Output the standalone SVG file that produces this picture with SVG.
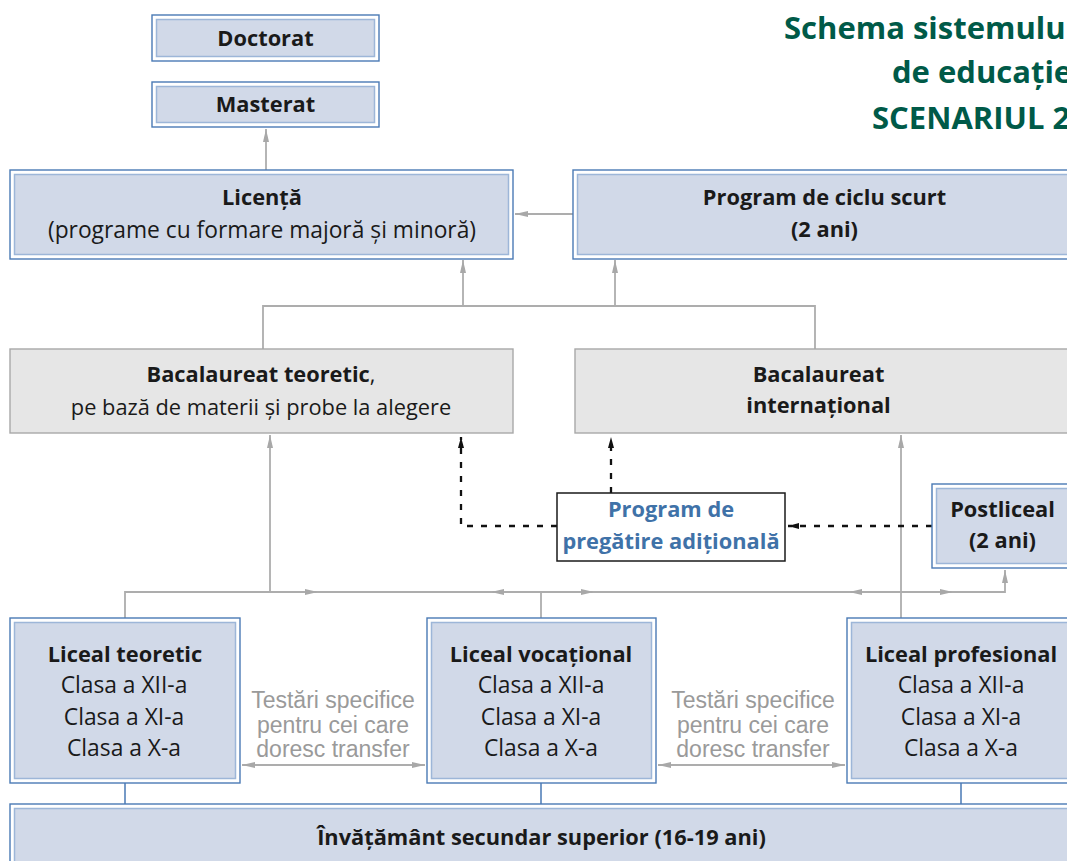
<svg xmlns="http://www.w3.org/2000/svg" width="1067" height="861" viewBox="0 0 1067 861">
<defs>
<style>
.outer{fill:#fff;stroke:#4a7ab5;stroke-width:1.4}
.inner{fill:#d1d9e8;stroke:#9db6d8;stroke-width:1.5}
.gray{fill:#e6e6e6;stroke:#a8a8a8;stroke-width:1.4}
.white{fill:#fff;stroke:#1a1a1a;stroke-width:1.5}
.t{font-family:"Open Sans","Noto Sans",sans-serif;font-size:21.8px;fill:#1a1a1a;text-anchor:middle}
.r{font-size:22.8px}
.b{font-weight:bold}
.blue{fill:#3f72a8}
.note{font-family:"Liberation Sans",Arial,sans-serif;font-size:23px;fill:#9a9a9a;text-anchor:middle}
.title{font-family:"Open Sans","Noto Sans",sans-serif;font-weight:bold;font-size:31px;fill:#005a48}
.gl{stroke:#adadad;stroke-width:1.8;fill:none}
.dl{stroke:#111;stroke-width:2.3;stroke-dasharray:6 8;fill:none}
.bl{stroke:#4a7ab5;stroke-width:1.5;fill:none}
</style>
<marker id="ag" viewBox="0 0 13 8" refX="13" refY="4" markerWidth="13" markerHeight="8" markerUnits="userSpaceOnUse" orient="auto-start-reverse"><path d="M0,1 L13,4 L0,7 z" fill="#a8a8a8"/></marker>
<marker id="ab" viewBox="0 0 11 8" refX="11" refY="4" markerWidth="11" markerHeight="8" markerUnits="userSpaceOnUse" orient="auto"><path d="M0,1 L11,4 L0,7 z" fill="#111"/></marker>
</defs>
<rect width="1067" height="861" fill="#fff"/>

<g id="title">
<text class="title" x="784" y="39">Schema sistemului</text>
<text class="title" x="892" y="83">de educație</text>
<text class="title" x="872" y="129">SCENARIUL 2</text>
</g>

<g id="connectors">
<path class="gl" d="M266,170 V129" marker-end="url(#ag)"/>
<path class="gl" d="M573,214 H515" marker-end="url(#ag)"/>
<path class="gl" d="M263,349 V306 H815 V349"/>
<path class="gl" d="M463,306 V260" marker-end="url(#ag)"/>
<path class="gl" d="M615,306 V260" marker-end="url(#ag)"/>
<path class="gl" d="M270,592 V435" marker-end="url(#ag)"/>
<path class="gl" d="M125,618 V592 H1005 V570" marker-end="url(#ag)"/>
<path class="gl" d="M541,618 V592"/>
<path class="gl" d="M901,618 V435" marker-end="url(#ag)"/>
<path class="gl" d="M300,592 H318" marker-end="url(#ag)"/>
<path class="gl" d="M509,592 H491" marker-end="url(#ag)"/>
<path class="gl" d="M576,592 H594" marker-end="url(#ag)"/>
<path class="gl" d="M867,592 H849" marker-end="url(#ag)"/>
<path class="gl" d="M935,592 H953" marker-end="url(#ag)"/>
<path class="gl" d="M242,765 H425" marker-start="url(#ag)" marker-end="url(#ag)"/>
<path class="gl" d="M658,765 H845" marker-start="url(#ag)" marker-end="url(#ag)"/>
<path class="bl" d="M125,783 V804 M541,783 V804 M961,783 V804"/>
<path class="dl" d="M557,526 H461 V437" marker-end="url(#ab)"/>
<path class="dl" d="M611,493 V437" marker-end="url(#ab)"/>
<path class="dl" d="M932,526 H788" marker-end="url(#ab)"/>
</g>

<g id="doctorat">
<rect class="outer" x="152" y="15" width="227" height="46"/>
<rect class="inner" x="156.5" y="19.5" width="218" height="37"/>
<text class="t b" x="265.5" y="46">Doctorat</text>
</g>

<g id="masterat">
<rect class="outer" x="152" y="82" width="227" height="45"/>
<rect class="inner" x="156.5" y="86.5" width="218" height="36"/>
<text class="t b" x="265.5" y="112">Masterat</text>
</g>

<g id="licenta">
<rect class="outer" x="10" y="170" width="503" height="89"/>
<rect class="inner" x="14.5" y="174.5" width="494" height="80"/>
<text class="t b" x="262" y="205">Licență</text>
<text class="t r" x="262" y="238">(programe cu formare majoră și minoră)</text>
</g>

<g id="ciclu-scurt">
<rect class="outer" x="573" y="170" width="510" height="89"/>
<rect class="inner" x="577.5" y="174.5" width="501" height="80"/>
<text class="t b" x="824.5" y="205">Program de ciclu scurt</text>
<text class="t b" x="824.5" y="237">(2 ani)</text>
</g>

<g id="bac-teoretic">
<rect class="gray" x="10" y="349" width="503" height="84"/>
<text class="t" x="261" y="382"><tspan class="b">Bacalaureat teoretic</tspan>,</text>
<text class="t" x="261" y="415">pe bază de materii și probe la alegere</text>
</g>

<g id="bac-international">
<rect class="gray" x="575" y="349" width="510" height="84"/>
<text class="t b" x="818.5" y="382">Bacalaureat</text>
<text class="t b" x="818.5" y="413">internațional</text>
</g>

<g id="pregatire">
<rect class="white" x="557" y="493" width="228" height="68"/>
<text class="t b blue" x="671" y="517">Program de</text>
<text class="t b blue" x="671" y="549">pregătire adițională</text>
</g>

<g id="postliceal">
<rect class="outer" x="932" y="484" width="150" height="84"/>
<rect class="inner" x="936.5" y="488.5" width="141" height="75"/>
<text class="t b" x="1002.5" y="517">Postliceal</text>
<text class="t b" x="1002.5" y="548">(2 ani)</text>
</g>

<g id="liceal-teoretic">
<rect class="outer" x="10" y="618" width="230" height="165"/>
<rect class="inner" x="14.5" y="622.5" width="221" height="156"/>
<text class="t b" x="125" y="662">Liceal teoretic</text>
<text class="t r" x="124" y="693">Clasa a XII-a</text>
<text class="t r" x="124" y="725">Clasa a XI-a</text>
<text class="t r" x="124" y="756">Clasa a X-a</text>
</g>

<g id="note-1">
<text class="note" x="333" y="708">Testări specifice</text>
<text class="note" x="333" y="733">pentru cei care</text>
<text class="note" x="333" y="757">doresc transfer</text>
</g>

<g id="liceal-vocational">
<rect class="outer" x="427" y="618" width="229" height="165"/>
<rect class="inner" x="431.5" y="622.5" width="220" height="156"/>
<text class="t b" x="541" y="662">Liceal vocațional</text>
<text class="t r" x="541" y="693">Clasa a XII-a</text>
<text class="t r" x="541" y="725">Clasa a XI-a</text>
<text class="t r" x="541" y="756">Clasa a X-a</text>
</g>

<g id="note-2">
<text class="note" x="753" y="708">Testări specifice</text>
<text class="note" x="753" y="733">pentru cei care</text>
<text class="note" x="753" y="757">doresc transfer</text>
</g>

<g id="liceal-profesional">
<rect class="outer" x="847" y="618" width="240" height="165"/>
<rect class="inner" x="851.5" y="622.5" width="231" height="156"/>
<text class="t b" x="961" y="662">Liceal profesional</text>
<text class="t r" x="961" y="693">Clasa a XII-a</text>
<text class="t r" x="961" y="725">Clasa a XI-a</text>
<text class="t r" x="961" y="756">Clasa a X-a</text>
</g>

<g id="secundar-superior">
<rect class="outer" x="10" y="804" width="1080" height="70"/>
<rect class="inner" x="14.5" y="808.5" width="1071" height="61"/>
<text class="t b" x="541.5" y="845">Învățământ secundar superior (16-19 ani)</text>
</g>
</svg>
